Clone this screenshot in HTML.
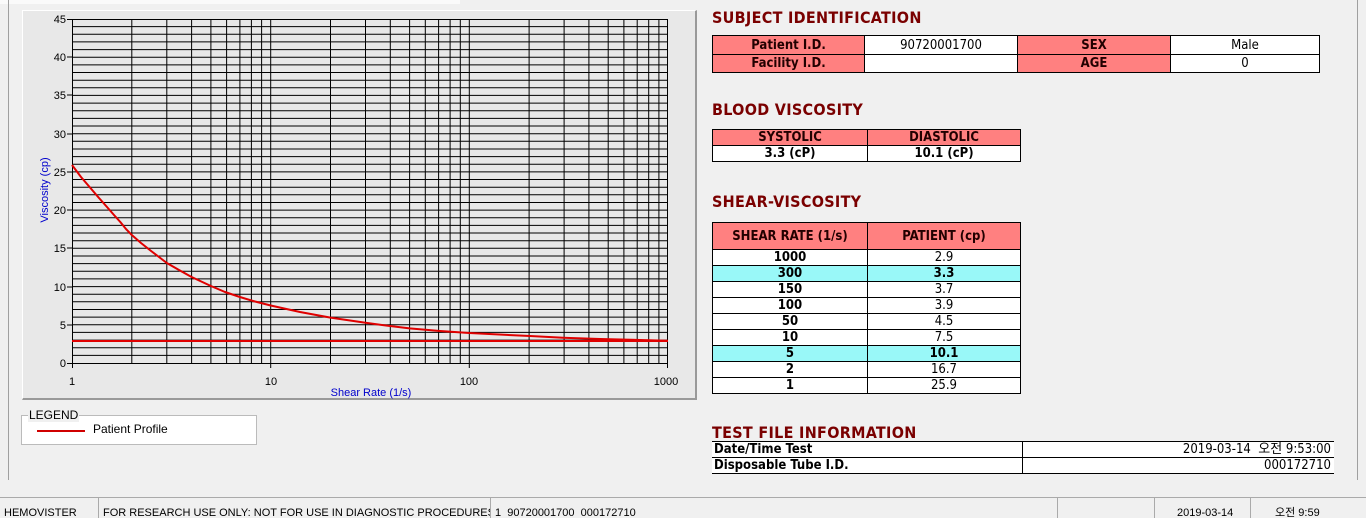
<!DOCTYPE html>
<html style="overflow:hidden;width:1366px;height:518px"><head><meta charset="utf-8"><style>
body{margin:0;width:1366px;height:518px;background:#f0f0f0;position:relative;overflow:hidden;font-family:"Liberation Sans","Noto Sans CJK KR",sans-serif}
.a{position:absolute}
.t{position:absolute;color:#7a0000;font-weight:bold;font-size:16px;font-family:"DejaVu Sans Condensed","Liberation Sans",sans-serif;letter-spacing:0.3px}
table{border-collapse:collapse;position:absolute;font-size:13px;font-family:"DejaVu Sans Condensed","Liberation Sans",sans-serif}
td{padding:0;text-align:center;border:1px solid #000;line-height:15px}
.h{background:#ff8080;font-weight:bold;color:#200}
.w{background:#fff}
.c{background:#99f8f8;font-weight:bold}
.sb{position:absolute;top:497px;height:21px;overflow:hidden;border-left:1px solid #aaa;border-top:1px solid #aaa;font-size:11px;line-height:30px;padding-left:4px;box-sizing:border-box;white-space:nowrap}
</style></head><body>
<div class="a" style="left:0;top:0;width:460px;height:4px;background:#fafafa"></div>
<div class="a" style="left:8px;top:0;width:1px;height:480px;background:#a0a0a0"></div>
<div class="a" style="left:1357px;top:0;width:1px;height:480px;background:#a0a0a0"></div>
<div class="a" style="left:22px;top:10px;width:675px;height:390px;background:#e8e8e8;border-right:2px solid #999;border-bottom:2px solid #999;box-sizing:border-box;border-top:1px solid #fff;border-left:1px solid #fff"></div>
<svg class="a" style="left:0;top:0" width="700" height="410">
<rect x="72" y="19" width="596" height="344" fill="#e8e8e8"/>
<path stroke="#000" stroke-width="1" fill="none" d="M72 355.4H668M72 347.7H668M72 340.1H668M72 332.4H668M72 324.8H668M72 317.1H668M72 309.5H668M72 301.8H668M72 294.2H668M72 286.6H668M72 278.9H668M72 271.3H668M72 263.6H668M72 256H668M72 248.3H668M72 240.7H668M72 233H668M72 225.4H668M72 217.8H668M72 210.1H668M72 202.5H668M72 194.8H668M72 187.2H668M72 179.5H668M72 171.9H668M72 164.2H668M72 156.6H668M72 149H668M72 141.3H668M72 133.7H668M72 126H668M72 118.4H668M72 110.7H668M72 103.1H668M72 95.4H668M72 87.8H668M72 80.2H668M72 72.5H668M72 64.9H668M72 57.2H668M72 49.6H668M72 41.9H668M72 34.3H668M72 26.6H668M72 19.5H668
M131.8 19V363M166.8 19V363M191.6 19V363M210.9 19V363M226.6 19V363M239.9 19V363M251.4 19V363M261.6 19V363M270.7 19V363M330.5 19V363M365.5 19V363M390.3 19V363M409.6 19V363M425.3 19V363M438.6 19V363M450.1 19V363M460.3 19V363M469.3 19V363M529.1 19V363M564.1 19V363M588.9 19V363M608.2 19V363M623.9 19V363M637.2 19V363M648.7 19V363M658.9 19V363M667.5 19V363"/>
<path stroke="#000" fill="none" d="M72.5 19V368M67 363.5H668M67 325H72M67 287H72M67 248H72M67 210H72M67 172H72M67 134H72M67 95H72M67 57H72M67 19.5H72M270.7 363V368M469.3 363V368M667.5 363V368"/>
<g font-size="11" text-anchor="end" fill="#000"><text x="66" y="367">0</text><text x="66" y="329">5</text><text x="66" y="291">10</text><text x="66" y="252">15</text><text x="66" y="214">20</text><text x="66" y="176">25</text><text x="66" y="138">30</text><text x="66" y="99">35</text><text x="66" y="61">40</text><text x="66" y="23">45</text></g>
<g font-size="11" text-anchor="middle"><text x="72" y="385">1</text><text x="271" y="385">10</text><text x="469" y="385">100</text><text x="666" y="385">1000</text></g>
<text x="371" y="396" font-size="11" fill="#0000cc" text-anchor="middle">Shear Rate (1/s)</text>
<text transform="translate(48,190) rotate(-90)" font-size="11" fill="#0000cc" text-anchor="middle">Viscosity (cp)</text>
<path stroke="#e00000" stroke-width="2" fill="none" d="M72 341H668"/>
<polyline stroke="#e00000" stroke-width="2" fill="none" stroke-linejoin="round" points="72,165 81,177 91.3,189 99,198 107,207 114,215 120.3,222 126,229 131.8,235 141,243 151.1,251 159,257 166.8,263 179,270 191.6,277 210.9,286 225,292 239.9,297 255,301.5 270.7,305.5 300,312 330.5,317.6 365.5,322.8 390,326 409.6,328.4 440,331 469.3,333 504.3,334.8 530,336 563.1,337.7 600,339 640,340 668,340.8"/>
</svg>
<div class="a" style="left:21px;top:415px;width:236px;height:30px;background:#fff;border:1px solid #bbb;box-sizing:border-box"></div>
<div class="a" style="left:28px;top:408px;font-size:12px;background:#f0f0f0;padding:0 1px">LEGEND</div>
<div class="a" style="left:37px;top:430px;width:48px;height:2px;background:#d00000"></div>
<div class="a" style="left:93px;top:422px;font-size:12px">Patient Profile</div>

<div class="t" style="left:712px;top:8px">SUBJECT IDENTIFICATION</div>
<table style="left:712px;top:35px;width:608px"><tr style="height:19px"><td class="h" style="width:151px">Patient I.D.</td><td class="w" style="width:152px;font-weight:normal">90720001700</td><td class="h" style="width:152px">SEX</td><td class="w">Male</td></tr>
<tr style="height:18px"><td class="h">Facility I.D.</td><td class="w"></td><td class="h">AGE</td><td class="w">0</td></tr></table>
<div class="t" style="left:712px;top:100px">BLOOD VISCOSITY</div>
<table style="left:712px;top:129px;width:309px;font-weight:bold"><tr style="height:16px"><td class="h" style="width:154px;border-bottom:1px solid #000">SYSTOLIC</td><td class="h">DIASTOLIC</td></tr><tr style="height:16px"><td class="w">3.3 (cP)</td><td class="w">10.1 (cP)</td></tr></table>
<div class="t" style="left:712px;top:192px">SHEAR-VISCOSITY</div>
<table style="left:712px;top:222px;width:309px"><tr style="height:27px"><td class="h" style="width:154px">SHEAR RATE (1/s)</td><td class="h">PATIENT (cp)</td></tr>
<tr style="height:16px"><td class="w" style="font-weight:bold">1000</td><td class="w">2.9</td></tr>
<tr style="height:16px"><td class="c">300</td><td class="c">3.3</td></tr>
<tr style="height:16px"><td class="w" style="font-weight:bold">150</td><td class="w">3.7</td></tr>
<tr style="height:16px"><td class="w" style="font-weight:bold">100</td><td class="w">3.9</td></tr>
<tr style="height:16px"><td class="w" style="font-weight:bold">50</td><td class="w">4.5</td></tr>
<tr style="height:16px"><td class="w" style="font-weight:bold">10</td><td class="w">7.5</td></tr>
<tr style="height:16px"><td class="c">5</td><td class="c">10.1</td></tr>
<tr style="height:16px"><td class="w" style="font-weight:bold">2</td><td class="w">16.7</td></tr>
<tr style="height:16px"><td class="w" style="font-weight:bold">1</td><td class="w">25.9</td></tr></table>
<div class="t" style="left:712px;top:423px">TEST FILE INFORMATION</div>
<table style="left:712px;top:441px;width:622px;font-weight:bold"><tr style="height:16px"><td class="w" style="width:308px;text-align:left;padding-left:2px;border-left:none">Date/Time Test</td><td class="w" style="text-align:right;font-weight:normal;border-right:none;padding-right:3px">2019-03-14 &nbsp;오전 9:53:00</td></tr>
<tr style="height:16px"><td class="w" style="text-align:left;padding-left:2px;border-left:none">Disposable Tube I.D.</td><td class="w" style="text-align:right;font-weight:normal;border-right:none;padding-right:3px">000172710</td></tr></table>

<div class="sb" style="left:0;width:98px;border-left:none">HEMOVISTER</div>
<div class="sb" style="left:98px;width:392px">FOR RESEARCH USE ONLY: NOT FOR USE IN DIAGNOSTIC PROCEDURES</div>
<div class="sb" style="left:490px;width:567px">1 &nbsp;90720001700 &nbsp;000172710</div>
<div class="sb" style="left:1057px;width:97px"></div>
<div class="sb" style="left:1154px;width:96px;padding-left:22px">2019-03-14</div>
<div class="sb" style="left:1250px;width:116px;padding-left:24px">오전 9:59</div>
</body></html>
